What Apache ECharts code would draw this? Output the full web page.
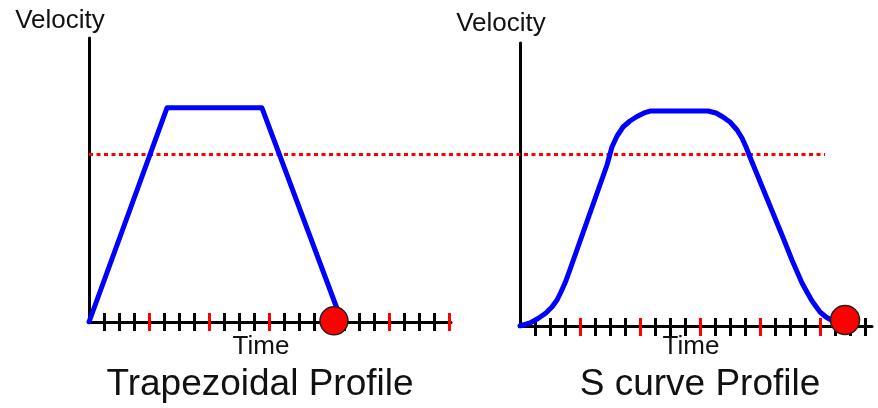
<!DOCTYPE html>
<html><head><meta charset="utf-8">
<script src="https://cdn.jsdelivr.net/npm/echarts@6/dist/echarts.min.js"></script>
<style>html,body{margin:0;padding:0;background:#fff}#c{width:878px;height:408px}</style>
</head><body><div id="c"></div>
<script>
// ---- data ----
const trapTime     = [0, 5.2, 11.53, 16.87];
const trapVelocity = [0, 75.4, 75.4, 0];
const sTime     = [0, 0.67, 1.2, 1.73, 2.13, 2.47, 2.73, 3.0, 3.2, 5.8, 6.13, 6.47, 6.87, 7.33, 7.8, 8.27, 8.67, 12.53, 13.07, 13.53, 14.0, 14.47, 14.8, 15.07, 15.33, 17.6, 18.13, 18.8, 19.13, 19.47, 20.0, 20.4, 20.8, 21.33];
const sVelocity = [0, 1.06, 2.65, 4.59, 6.71, 9.19, 12.01, 15.19, 18.02, 56.89, 63.25, 67.14, 70.32, 72.44, 74.03, 75.27, 75.97, 75.97, 75.27, 73.85, 72.08, 69.26, 66.43, 63.25, 59.72, 30.39, 23.32, 15.19, 12.01, 8.83, 4.95, 3.18, 1.94, 1.41];
const thresholdVelocity = 59;
const trapEndPoint = [16.33, 0.4];
const sEndPoint    = [21.67, 2.1];
const leftMinorTicks  = [1,2,3,4,5,6,7,8,9,10,11,12,13,14,15,16,17,18,19,20,21,22,23,24];
const leftMajorTicks  = [4,8,12,16,20,24];
const rightMinorTicks = [1,2,3,4,5,6,7,8,9,10,11,12,13,14,15,16,17,18,19,20,21,22,23];
const rightMajorTicks = [4,8,12,16,20];
const yAxisName = 'Velocity';
const xAxisName = 'Time';
const chartTitles = ['Trapezoidal Profile', 'S curve Profile'];

const FONT = '"Liberation Sans", Arial, sans-serif';
const pairs = (xs, ys) => xs.map((x, i) => [x, ys[i]]);

function mainX(grid, max) {
  return { type: 'value', gridIndex: grid, min: 0, max: max, position: 'bottom',
    axisLine: { show: true, onZero: false, lineStyle: { color: '#000', width: 3 } },
    axisTick: { show: false }, axisLabel: { show: false }, splitLine: { show: false } };
}
function tickX(grid, max, values, color, offset, z) {
  return { type: 'value', gridIndex: grid, min: 0, max: max, position: 'bottom', offset: offset, z: z,
    axisLine: { show: false, onZero: false },
    axisTick: { show: true, inside: false, length: 18, customValues: values, lineStyle: { color: color, width: 3 } },
    axisLabel: { show: false }, splitLine: { show: false } };
}
function mainY(grid) {
  return { type: 'value', gridIndex: grid, min: 0, max: 100,
    axisLine: { show: true, onZero: false, lineStyle: { color: '#000', width: 3 } },
    axisTick: { show: false }, axisLabel: { show: false }, splitLine: { show: false } };
}
function txt(s, x, y, size) {
  return { type: 'text', x: x, y: y, z: 10,
    style: { text: s, fill: '#111', font: size + 'px ' + FONT, textAlign: 'center', textVerticalAlign: 'middle' } };
}

const chart = echarts.init(document.getElementById('c'), null, { renderer: 'canvas' });
chart.setOption({
  animation: false,
  backgroundColor: '#fff',
  grid: [
    { left: 89, top: 38, width: 362, height: 284 },
    { left: 520, top: 43, width: 352, height: 283 },
    { left: 89, top: 38, width: 736, height: 284 }
  ],
  xAxis: [
    mainX(0, 362 / 15),
    tickX(0, 362 / 15, leftMinorTicks, '#000', -9, 1),
    tickX(0, 362 / 15, leftMajorTicks, '#ff0000', -9, 2),
    mainX(1, 352 / 15),
    tickX(1, 352 / 15, rightMinorTicks, '#000', -8, 1),
    tickX(1, 352 / 15, rightMajorTicks, '#ff0000', -8, 2),
    { type: 'value', gridIndex: 2, min: 0, max: 1, show: false }
  ],
  yAxis: [
    mainY(0),
    mainY(1),
    { type: 'value', gridIndex: 2, min: 0, max: 100, show: false }
  ],
  series: [
    { type: 'line', xAxisIndex: 6, yAxisIndex: 2, z: 1, symbol: 'none', silent: true,
      data: [[0, thresholdVelocity], [1, thresholdVelocity]],
      lineStyle: { color: '#ff0000', width: 3, type: [4, 3.5] } },
    { type: 'line', xAxisIndex: 0, yAxisIndex: 0, z: 3, symbol: 'none',
      data: pairs(trapTime, trapVelocity),
      lineStyle: { color: '#0000ff', width: 5, join: 'round', cap: 'round' } },
    { type: 'scatter', xAxisIndex: 0, yAxisIndex: 0, z: 5, symbol: 'circle', symbolSize: 28,
      data: [trapEndPoint],
      itemStyle: { color: '#ff0000', opacity: 1, borderColor: '#222', borderWidth: 1.5 } },
    { type: 'line', xAxisIndex: 3, yAxisIndex: 1, z: 3, symbol: 'none',
      data: pairs(sTime, sVelocity),
      lineStyle: { color: '#0000ff', width: 5, join: 'round', cap: 'round' } },
    { type: 'scatter', xAxisIndex: 3, yAxisIndex: 1, z: 5, symbol: 'circle', symbolSize: 29,
      data: [sEndPoint],
      itemStyle: { color: '#ff0000', opacity: 1, borderColor: '#222', borderWidth: 1.5 } }
  ],
  graphic: [
    txt(yAxisName, 60, 21, 26),
    txt(yAxisName, 501, 24, 26),
    txt(xAxisName, 261, 347, 26),
    txt(xAxisName, 691, 347, 26),
    txt(chartTitles[0], 260, 385, 37),
    txt(chartTitles[1], 700, 385, 37)
  ]
});
</script>
</body></html>
